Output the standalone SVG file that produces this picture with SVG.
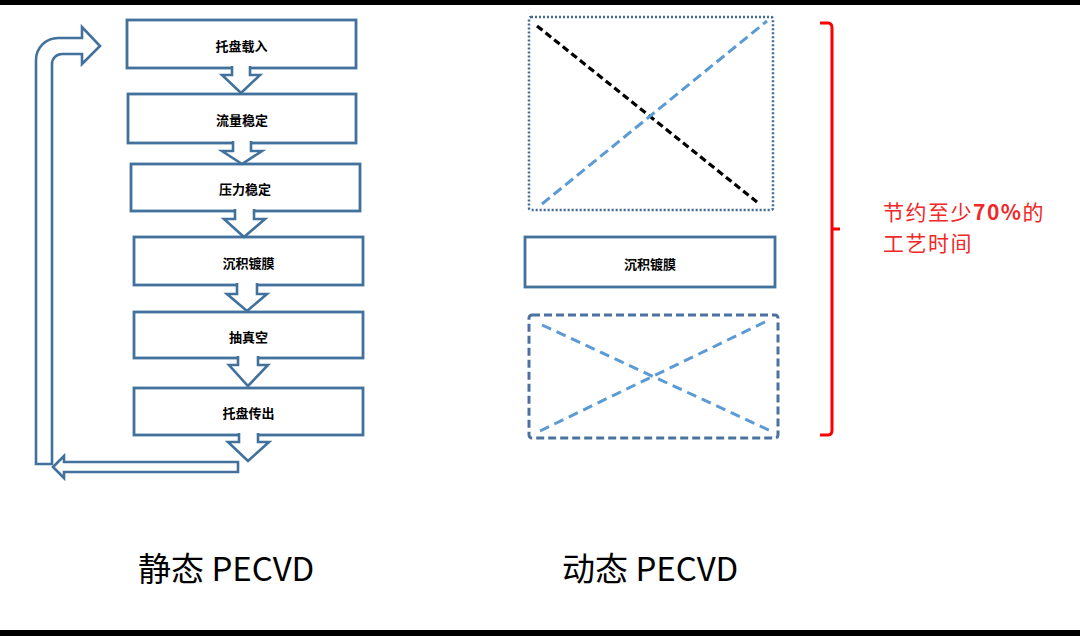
<svg xmlns="http://www.w3.org/2000/svg" width="1080" height="636" viewBox="0 0 1080 636">
<style>
.box{fill:#fff;stroke:#41719C;stroke-width:2.8}
.blk{fill:#fff;stroke:#41719C;stroke-width:2.6;stroke-linejoin:miter}
.lbl{font-family:"Noto Sans CJK SC","Noto Sans",sans-serif;font-size:13px;font-weight:bold;fill:#000;text-anchor:middle;dominant-baseline:central}
.big{font-family:"Noto Sans CJK SC","Noto Sans",sans-serif;font-size:33px;fill:#000}
.red{font-family:"Noto Sans CJK SC","Noto Sans",sans-serif;font-size:21px;letter-spacing:1.5px;fill:#f02828}
.bluedash{fill:none;stroke:#5B9BD5;stroke-width:3}
</style>
<rect x="0" y="0" width="1080" height="636" fill="#fff"/>
<rect x="0" y="0" width="1080" height="5" fill="#000"/>
<rect x="0" y="630" width="1080" height="6" fill="#000"/>

<g id="n1"><rect class="box" x="127" y="20" width="229" height="48"/><text class="lbl" x="241.5" y="45">托盘载入</text></g>
<g id="n2"><rect class="box" x="128" y="94" width="228" height="49"/><text class="lbl" x="242" y="119">流量稳定</text></g>
<g id="n3"><rect class="box" x="131" y="164" width="229" height="47"/><text class="lbl" x="245" y="188">压力稳定</text></g>
<g id="n4"><rect class="box" x="134" y="237" width="229" height="48"/><text class="lbl" x="248.5" y="262">沉积镀膜</text></g>
<g id="n5"><rect class="box" x="134" y="312" width="229" height="46"/><text class="lbl" x="248.5" y="336">抽真空</text></g>
<g id="n6"><rect class="box" x="134" y="388" width="229" height="47"/><text class="lbl" x="248.5" y="412">托盘传出</text></g>

<g id="connectors">
  <path class="blk" d="M232 66 L232 75 L222 75 L241 93 L260 75 L250 75 L250 66"/>
  <path class="blk" d="M233 141 L233 151 L222 151 L242 164 L262 151 L251 151 L251 141"/>
  <path class="blk" d="M235 209 L235 219 L224 219 L244 237 L265 219 L254 219 L254 209"/>
  <path class="blk" d="M237 283 L237 294 L227 294 L247 311 L267 294 L257 294 L257 283"/>
  <path class="blk" d="M238 356 L238 365 L229 365 L248 386 L268 365 L258 365 L258 356"/>
  <path class="blk" d="M239 433 L239 442 L228 442 L248 461 L269 442 L258 442 L258 433"/>
  <path class="blk" d="M36 464 L36 60 A22 22 0 0 1 58 38 L82 38 L82 27 L100 46 L82 64 L82 54 L62 54 A10 10 0 0 0 52 64 L52 464 Z"/>
  <path class="blk" d="M238 462 L64 462 L64 456 L53 467 L64 478 L64 472 L238 472 Z"/>
</g>

<g id="dyn-top">
  <rect x="529" y="17" width="244" height="193" rx="2" fill="none" stroke="#3F6A99" stroke-width="2.5" stroke-dasharray="2 2"/>
  <line x1="537" y1="26" x2="757" y2="202" stroke="#000" stroke-width="3.2" stroke-dasharray="7 4"/>
  <line class="bluedash" x1="542" y1="204" x2="767" y2="21" stroke-dasharray="10 5"/>
</g>
<g id="dyn-mid">
  <rect class="box" x="525" y="237" width="250" height="50"/>
  <text class="lbl" x="650" y="263">沉积镀膜</text>
</g>
<g id="dyn-bot">
  <rect x="529" y="315" width="249" height="123" rx="3" fill="none" stroke="#4A72A0" stroke-width="3" stroke-dasharray="8 4"/>
  <line class="bluedash" x1="542" y1="325" x2="773" y2="432" stroke-dasharray="10 6"/>
  <line class="bluedash" x1="540" y1="431" x2="769" y2="320" stroke-dasharray="10 6"/>
</g>

<g id="brace">
  <path d="M820 23 L828 23 Q832 23 832 28 L832 229 L840 229 M832 229 L832 430 Q832 435 828 435 L820 435" fill="none" stroke="#f00" stroke-width="3"/>
  <text class="red" x="883" y="220">节约至少<tspan font-weight="bold">70%</tspan>的</text>
  <text class="red" x="883" y="251">工艺时间</text>
</g>

<text class="big" x="138" y="581">静态 PECVD</text>
<text class="big" x="562" y="581">动态 PECVD</text>
</svg>
